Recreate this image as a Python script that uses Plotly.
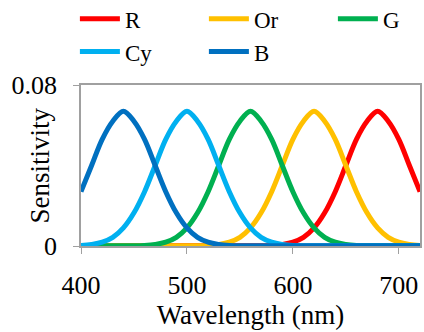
import plotly.graph_objects as go

wavelength = list(range(400, 721, 10))

B = [0.027, 0.040, 0.053, 0.062, 0.067, 0.062, 0.053, 0.040, 0.027, 0.0165,
     0.009, 0.0043, 0.0019, 0.0008, 0.0003, 0.0001, 0.0001, 0.0001, 0.0001, 0.0001,
     0.0001, 0.0001, 0.0001, 0.0001, 0.0001, 0.0001, 0.0001, 0.0001, 0.0001, 0.0001,
     0.0001, 0.0001, 0.0001]
Cy = [0.0003, 0.0008, 0.0019, 0.0043, 0.009, 0.0165, 0.027, 0.040, 0.053, 0.062,
      0.067, 0.062, 0.053, 0.040, 0.027, 0.0165, 0.009, 0.0043, 0.0019, 0.0008,
      0.0003, 0.0001, 0.0001, 0.0001, 0.0001, 0.0001, 0.0001, 0.0001, 0.0001, 0.0001,
      0.0001, 0.0001, 0.0001]
G = [0.0001, 0.0001, 0.0001, 0.0001, 0.0001, 0.0001, 0.0003, 0.0008, 0.0019, 0.0043,
     0.009, 0.0165, 0.027, 0.040, 0.053, 0.062, 0.067, 0.062, 0.053, 0.040,
     0.027, 0.0165, 0.009, 0.0043, 0.0019, 0.0008, 0.0003, 0.0001, 0.0001, 0.0001,
     0.0001, 0.0001, 0.0001]
Or = [0.0001, 0.0001, 0.0001, 0.0001, 0.0001, 0.0001, 0.0001, 0.0001, 0.0001, 0.0001,
      0.0001, 0.0001, 0.0003, 0.0008, 0.0019, 0.0043, 0.009, 0.0165, 0.027, 0.040,
      0.053, 0.062, 0.067, 0.062, 0.053, 0.040, 0.027, 0.0165, 0.009, 0.0043,
      0.0019, 0.0008, 0.0003]
R = [0.0001, 0.0001, 0.0001, 0.0001, 0.0001, 0.0001, 0.0001, 0.0001, 0.0001, 0.0001,
     0.0001, 0.0001, 0.0001, 0.0001, 0.0001, 0.0001, 0.0001, 0.0001, 0.0003, 0.0008,
     0.0019, 0.0043, 0.009, 0.0165, 0.027, 0.040, 0.053, 0.062, 0.067, 0.062,
     0.053, 0.040, 0.027]

series_names = ["R", "Or", "G", "Cy", "B"]
series_values = [R, Or, G, Cy, B]
series_colors = ["#FF0000", "#FFC000", "#00B050", "#00B0F0", "#0070C0"]

x_ticks = [400, 500, 600, 700]
y_ticks = [0, 0.08]
y_ticklabels = ["0", "0.08"]

font = "Liberation Serif, Times New Roman, serif"

fig = go.Figure()
for name, vals, col in zip(series_names, series_values, series_colors):
    fig.add_trace(go.Scatter(x=wavelength, y=vals, name=name, mode="lines",
                             line=dict(color=col, width=5, shape="spline")))

fig.update_layout(
    width=424, height=332,
    margin=dict(l=81, r=4, t=85, b=86, autoexpand=False),
    plot_bgcolor="white", paper_bgcolor="white",
    font=dict(family=font, size=26, color="black"),
    showlegend=True,
    legend=dict(orientation="h", x=-0.018, y=1.545,
                xanchor="left", yanchor="top",
                entrywidth=74, entrywidthmode="pixels",
                font=dict(family=font, size=23), tracegroupgap=0,
                itemwidth=40, bgcolor="rgba(0,0,0,0)"),
    xaxis=dict(range=[400, 720], tickvals=x_ticks, ticks="outside", ticklen=6,
               tickcolor="#A0A0A0", showline=True, linecolor="#A0A0A0", linewidth=1.5,
               mirror=True, showgrid=False, zeroline=False,
               ticklabelstandoff=9, tickfont=dict(size=26),
               title=dict(text="Wavelength (nm)", standoff=4, font=dict(size=27))),
    yaxis=dict(range=[0, 0.08], tickvals=y_ticks, ticktext=y_ticklabels,
               ticks="outside", ticklen=6, tickcolor="#A0A0A0",
               showline=True, linecolor="#A0A0A0", linewidth=1.5, mirror=True,
               showgrid=False, zeroline=False, ticklabelstandoff=11,
               tickfont=dict(size=26)),
    annotations=[dict(text="Sensitivity", textangle=-90, xref="paper", yref="paper",
                      x=-0.121, y=0.5, xanchor="center", yanchor="middle",
                      showarrow=False, font=dict(family=font, size=27))],
)

fig.write_html("out.html", config={"displayModeBar": False},
               post_script="document.body.style.margin='0';")
